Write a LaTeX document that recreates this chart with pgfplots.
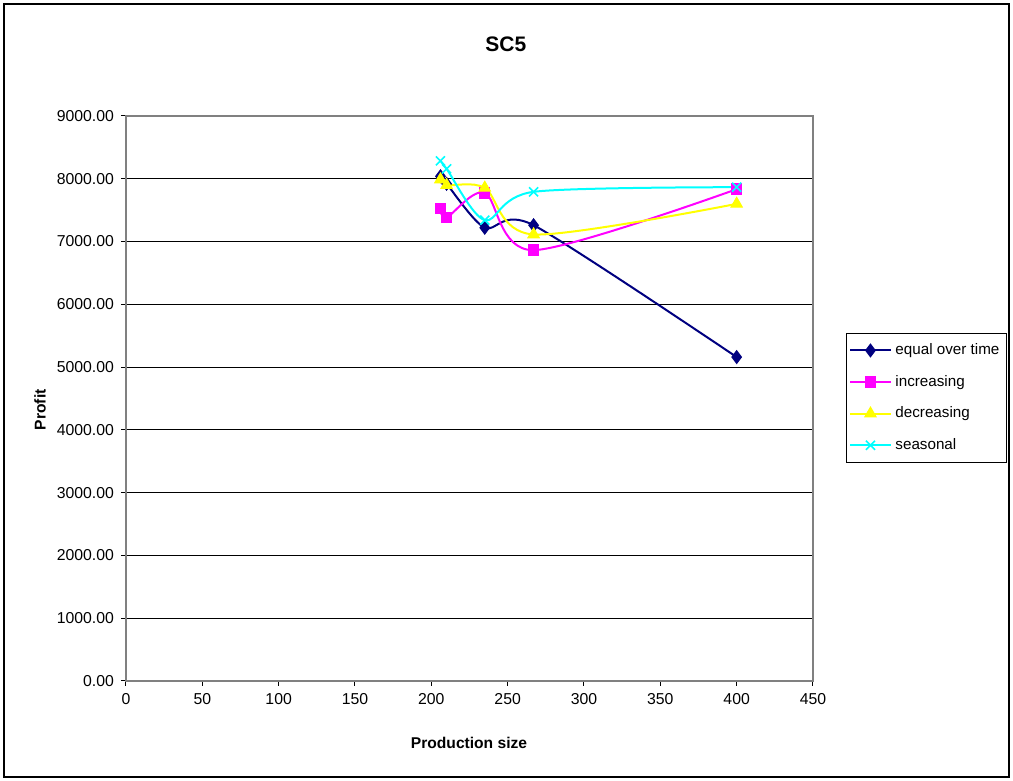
\documentclass[border=0pt]{standalone}
\usepackage{pgfplots}
\pgfplotsset{compat=1.18}
\usepackage{fontspec}
\setmainfont{Liberation Sans}
\definecolor{navyc}{RGB}{0,0,128}
\definecolor{magc}{RGB}{255,0,255}
\definecolor{yelc}{RGB}{255,255,0}
\definecolor{cyac}{RGB}{0,255,255}
\begin{document}
\begin{tikzpicture}
\useasboundingbox (-63pt,-50pt) rectangle (443.5pt,340.5pt);
\draw[black, line width=0.6pt] (-61pt,-48pt) rectangle (441.5pt,338.5pt);
\begin{axis}[
  at={(0pt,0pt)}, anchor=south west,
  scale only axis, width=343.5pt, height=282.5pt,
  xmin=0, xmax=450, ymin=0, ymax=9000,
  xtick={0,50,...,450}, ytick={0,1000,...,9000},
  ymajorgrids, major grid style={black, line width=0.5pt},
  axis line style={gray, line width=0.6pt},
  tick style={black, line width=0.5pt},
  tick align=outside, major tick length=2.5pt,
  xtick pos=left, ytick pos=left,
  tick label style={font=\fontsize{7.9}{9}\selectfont},
  /pgf/number format/assume math mode=true,
  yticklabel style={/pgf/number format/.cd, fixed, fixed zerofill, precision=2, 1000 sep={}},
  xticklabel style={/pgf/number format/1000 sep={}},
  title={SC5},
  title style={font=\bfseries\fontsize{10.5}{12}\selectfont, at={(axis description cs:0.553,1.106)}, anchor=center},
  xlabel={Production size},
  xlabel style={font=\bfseries\fontsize{7.8}{9}\selectfont, at={(axis description cs:0.4993,-0.1097)}, anchor=center},
  ylabel={Profit},
  ylabel style={font=\bfseries\fontsize{7.8}{9}\selectfont, at={(axis description cs:-0.125,0.48)}, anchor=center},
  legend style={at={(axis description cs:1.048,0.616)}, anchor=north west, draw=black, line width=0.5pt,
    font=\fontsize{7.6}{9}\selectfont, row sep=4.8pt, inner xsep=1.5pt, inner ysep=3pt, cells={anchor=west}},
  legend image code/.code={\draw[mark repeat=2,mark phase=2] plot coordinates {(0pt,0pt)(10pt,0pt)(20pt,0pt)};},
]
\addplot[color=navyc, line width=1pt, smooth, tension=0.45, mark=diamond*, mark size=3.2pt, mark options={solid, line width=0.5pt}]
  coordinates {(206,8040)(210,7920)(235,7220)(267,7260)(400,5160)};
\addlegendentry{equal over time}
\addplot[color=magc, line width=1pt, smooth, tension=0.5, mark=square*, mark size=2.6pt, mark options={solid, line width=0.5pt}]
  coordinates {(206,7527)(210,7384)(235,7776)(267,6863)(400,7834)};
\addlegendentry{increasing}
\addplot[color=yelc, line width=1pt, smooth, tension=0.5, mark=triangle*, mark size=3.3pt, mark options={solid, line width=0.5pt}]
  coordinates {(206,7989)(210,7898)(235,7855)(267,7113)(400,7600)};
\addlegendentry{decreasing}
\addplot[color=cyac, line width=1pt, smooth, tension=0.5, mark=x, mark size=3.2pt, mark options={solid, line width=0.8pt}]
  coordinates {(206,8285)(210,8158)(235,7341)(267,7792)(400,7866)};
\addlegendentry{seasonal}
\end{axis}
\end{tikzpicture}
\end{document}
